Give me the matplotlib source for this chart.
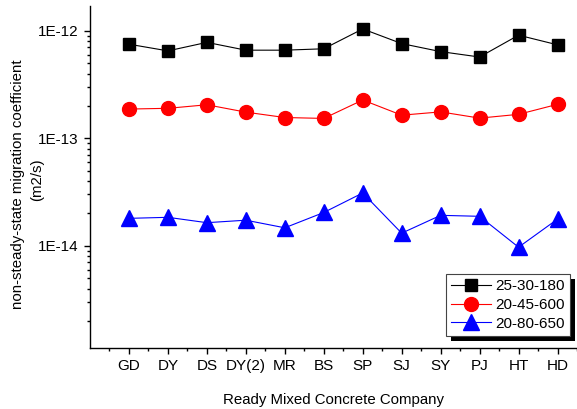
import matplotlib
matplotlib.use("Agg")
import matplotlib.pyplot as plt
from matplotlib.patches import Rectangle
from matplotlib.ticker import LogLocator, NullFormatter, FixedLocator

plt.rcParams['font.family'] = ['Liberation Sans', 'DejaVu Sans']

companies = ['GD', 'DY', 'DS', 'DY(2)', 'MR', 'BS', 'SP', 'SJ', 'SY', 'PJ', 'HT', 'HD']

mix_25_30_180 = [7.5e-13, 6.5e-13, 7.8e-13, 6.6e-13, 6.6e-13, 6.8e-13,
                 1.04e-12, 7.6e-13, 6.4e-13, 5.7e-13, 9.1e-13, 7.4e-13]
mix_20_45_600 = [1.87e-13, 1.9e-13, 2.05e-13, 1.75e-13, 1.56e-13, 1.53e-13,
                 2.27e-13, 1.64e-13, 1.76e-13, 1.54e-13, 1.67e-13, 2.07e-13]
mix_20_80_650 = [1.8e-14, 1.84e-14, 1.64e-14, 1.73e-14, 1.47e-14, 2.04e-14,
                 3.1e-14, 1.31e-14, 1.92e-14, 1.88e-14, 9.7e-15, 1.77e-14]

fig = plt.figure(figsize=(5.77, 4.09), dpi=100)
ax = fig.add_axes([90 / 577, 1 - 348 / 409, 1 - 90 / 577, 342 / 409])

x = list(range(1, len(companies) + 1))
ax.plot(x, mix_25_30_180, color='black', lw=0.8, marker='s', ms=8.5, label='25-30-180')
ax.plot(x, mix_20_45_600, color='red', lw=0.8, marker='o', ms=10, label='20-45-600')
ax.plot(x, mix_20_80_650, color='blue', lw=0.8, marker='^', ms=11, label='20-80-650')

ax.set_yscale('log')
ax.set_ylim(1.12e-15, 1.7e-12)
ax.set_xlim(0, 12.44)

ax.yaxis.set_major_locator(FixedLocator([1e-14, 1e-13, 1e-12]))
ax.set_yticklabels(['1E-14', '1E-13', '1E-12'])
ax.yaxis.set_minor_locator(LogLocator(base=10, subs=range(2, 10)))
ax.yaxis.set_minor_formatter(NullFormatter())

ax.set_xticks(x)
ax.set_xticklabels(companies)
ax.set_xticks([i + 0.5 for i in range(0, 13)], minor=True)

for side in ['top', 'right']:
    ax.spines[side].set_visible(False)
for side in ['left', 'bottom']:
    ax.spines[side].set_linewidth(1.0)

ax.tick_params(axis='both', which='major', direction='out', length=4, width=1,
               labelsize=11, pad=4)
ax.tick_params(axis='both', which='minor', direction='out', length=2.5, width=1)

ax.set_xlabel('Ready Mixed Concrete Company', fontsize=10.8, labelpad=14)

# y label drawn as two separate lines, like the original
fig.text(18 / 577, 1 - 184 / 409, 'non-steady-state migration coefficient',
         rotation=90, ha='center', va='center', fontsize=10.8)
fig.text(37 / 577, 1 - 180 / 409, '(m2/s)',
         rotation=90, ha='center', va='center', fontsize=10.8)

leg = ax.legend(loc='lower right', bbox_to_anchor=(570 / 577, 1 - 336 / 409),
                bbox_transform=fig.transFigure, fontsize=11, fancybox=False,
                edgecolor='#444444', framealpha=1, borderaxespad=0,
                handlelength=2.6, handletextpad=0.3, labelspacing=0.3,
                borderpad=0.35)
leg.get_frame().set_linewidth(0.8)

fig.canvas.draw()
bb = leg.get_window_extent()
shadow = Rectangle((bb.x0 + 5, bb.y0 - 5), bb.width, bb.height, transform=None,
                   facecolor='black', edgecolor='none', zorder=4.9, clip_on=False)
ax.add_artist(shadow)

fig.savefig('out.png', dpi=100)
